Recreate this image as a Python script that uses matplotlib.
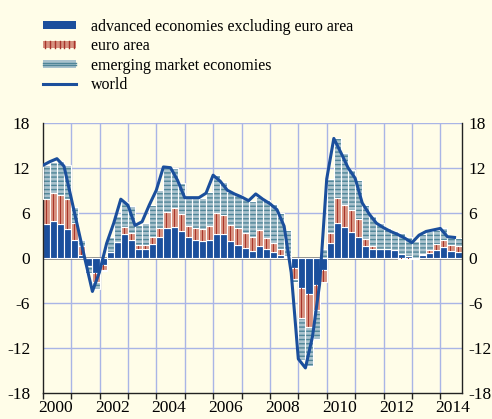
import numpy as np
import matplotlib
matplotlib.use("Agg")
import matplotlib.pyplot as plt
import matplotlib.transforms as mtransforms
from matplotlib.patches import Patch, Rectangle
from matplotlib.lines import Line2D
from matplotlib.legend_handler import HandlerBase

# quarterly contributions, 2000Q1 - 2014Q3
start_year = 2000
adv = [4.5, 4.9, 4.5, 3.8, 2.4, 0.4, -1.1, -2.1, -1.0, 0.7, 2.1, 3.2,
       2.3, 1.2, 1.1, 1.8, 2.8, 3.9, 4.1, 3.6, 2.7, 2.3, 2.2, 2.3,
       3.1, 3.2, 2.2, 1.7, 1.3, 0.9, 1.6, 1.2, 0.8, 0.4, 0.1, -1.4,
       -4.1, -4.8, -3.6, -1.6, 2.0, 4.6, 4.1, 3.4, 2.8, 1.5, 1.2, 1.2,
       1.2, 1.0, 0.5, 0.2, 0.0, 0.4, 0.6, 1.0, 1.4, 0.9, 0.7]
euro = [3.3, 3.7, 3.8, 4.0, 2.2, 1.1, 0.0, -1.1, -0.6, 0.1, 0.0, 0.9,
        1.0, 0.5, 0.6, 1.0, 1.2, 2.2, 2.5, 2.2, 1.5, 1.6, 1.6, 1.9,
        2.8, 2.5, 2.1, 2.3, 2.0, 1.8, 2.1, 1.4, 1.2, 0.8, 0.1, -1.4,
        -4.0, -4.4, -3.4, -1.6, 1.3, 3.4, 2.9, 3.0, 2.3, 1.0, 0.3, 0.0,
        0.0, -0.1, -0.2, -0.2, -0.2, 0.1, 0.4, 0.8, 0.9, 0.8, 0.8]
emer = [4.6, 4.2, 4.6, 4.5, 2.2, 0.8, -0.9, -1.0, -0.2, 1.9, 3.4, 3.3,
        3.6, 2.7, 2.9, 4.2, 5.0, 6.0, 5.3, 4.1, 3.7, 4.0, 4.2, 4.6,
        5.1, 4.4, 4.5, 4.4, 4.5, 4.8, 4.4, 5.1, 5.2, 4.7, 3.5, -0.5,
        -5.6, -5.3, -3.8, 1.2, 7.2, 7.9, 6.9, 5.3, 5.3, 4.5, 4.0, 3.4,
        2.8, 2.5, 2.8, 2.6, 2.2, 2.6, 2.5, 1.9, 1.6, 1.1, 1.1]
world = [12.3, 12.8, 13.2, 12.2, 8.0, 3.8, -0.4, -4.5, -1.9, 1.9, 4.6, 7.8,
         7.0, 4.3, 4.8, 7.0, 9.0, 12.1, 12.0, 10.3, 8.0, 8.0, 8.0, 8.6,
         11.0, 10.2, 9.0, 8.5, 8.1, 7.6, 8.5, 7.8, 7.2, 6.4, 4.2, -2.0,
         -13.5, -14.7, -10.5, -3.5, 10.5, 15.9, 14.0, 12.0, 10.6, 7.3, 5.8, 4.6,
         4.0, 3.5, 3.1, 2.6, 2.0, 3.0, 3.5, 3.7, 3.9, 2.8, 2.7]
labels = ["advanced economies excluding euro area", "euro area",
          "emerging market economies", "world"]
yticks = [-18, -12, -6, 0, 6, 12, 18]

BG = "#fffde8"
BLUE = "#1b4f9c"
SALMON = "#d6917f"
DARKRED = "#a8342a"
LIGHTBLUE = "#a9c2cd"
HATCH = "#4f8598"
GRID = "#a9b5e6"

plt.rcParams['font.family'] = ['Liberation Serif', 'DejaVu Serif']
plt.rcParams['hatch.linewidth'] = 1.0

adv = np.array(adv)
euro = np.array(euro)
emer = np.array(emer)
n = len(adv)
x = start_year + np.arange(n) / 4.0
w = 0.25

# stack positives up and negatives down
pos_base = np.zeros(n)
neg_base = np.zeros(n)
bottoms = []
for vals in (adv, euro, emer):
    b = np.where(vals >= 0, pos_base, neg_base)
    bottoms.append(b)
    pos_base = pos_base + np.clip(vals, 0, None)
    neg_base = neg_base + np.clip(vals, None, 0)

fig = plt.figure(figsize=(4.92, 4.19), dpi=100, facecolor=BG)
ax = fig.add_axes([0.0868, 0.0628, 0.8532, 0.6444], facecolor=BG)

for yv in [-12, -6, 6, 12, 18]:
    ax.axhline(yv, color=GRID, lw=1.0, zorder=0)
for yr in range(2001, 2015):
    ax.axvline(yr, color=GRID, lw=1.0, zorder=0)
ax.axhline(0, color="#6b6b6b", lw=1.8, zorder=1)

ax.bar(x, adv, width=w, bottom=bottoms[0], align='edge', color=BLUE,
       edgecolor='white', lw=0.8, zorder=2)
ax.bar(x, euro, width=w, bottom=bottoms[1], align='edge', color=SALMON,
       edgecolor='white', lw=0.8, zorder=2)
ax.bar(x + w / 2, euro, width=0.035, bottom=bottoms[1], align='center',
       color=DARKRED, lw=0, zorder=3)
ax.bar(x, emer, width=w, bottom=bottoms[2], align='edge', color=LIGHTBLUE,
       edgecolor=HATCH, hatch='----', lw=0, zorder=2)
ax.bar(x, emer, width=w, bottom=bottoms[2], align='edge', fill=False,
       edgecolor='white', lw=0.8, zorder=3)
ax.plot(x, world, color=BLUE, lw=2.2, zorder=4)

ax.set_xlim(2000, 2014.78)
ax.set_ylim(-18, 18)
ax.set_yticks(yticks)
ax.set_yticklabels([str(t) for t in yticks])
ax.tick_params(axis='y', length=0, labelsize=12.5, pad=9,
               labelleft=True, labelright=True)
# right-hand labels sit closer to the spine
shift = mtransforms.ScaledTranslation(-5 / 72, 0, fig.dpi_scale_trans)
for t in ax.yaxis.get_major_ticks():
    t.label2.set_transform(t.label2.get_transform() + shift)

ax.set_xticks(range(2000, 2015))
ax.set_xticklabels([])
ax.set_xticks([yr + 0.45 for yr in range(2000, 2015)], minor=True)
ax.set_xticklabels([str(yr) if yr % 2 == 0 else "" for yr in range(2000, 2015)],
                   minor=True)
ax.tick_params(axis='x', which='major', direction='out', length=4, width=1.0,
               color='#222222')
ax.tick_params(axis='x', which='minor', length=0, labelsize=12.5, pad=5)
for s in ['left', 'right', 'bottom']:
    ax.spines[s].set_color('#222222')
    ax.spines[s].set_linewidth(1.0)
ax.spines['top'].set_visible(False)


class StripeHandler(HandlerBase):
    def create_artists(self, legend, orig_handle, xd, yd, width, height, fontsize, trans):
        arts = [Rectangle((xd, yd + height * 0.2), width, height * 0.6,
                          facecolor=SALMON, edgecolor='none', transform=trans)]
        for k in range(7):
            xx = xd + width * (k + 0.5) / 7
            arts.append(Line2D([xx, xx], [yd + height * 0.2, yd + height * 0.8],
                               color=DARKRED, lw=1.0, transform=trans))
        return arts


class HatchHandler(HandlerBase):
    def create_artists(self, legend, orig_handle, xd, yd, width, height, fontsize, trans):
        arts = [Rectangle((xd, yd + height * 0.1), width, height * 0.8,
                          facecolor=LIGHTBLUE, edgecolor='none', transform=trans)]
        for yy in (0.38, 0.62):
            arts.append(Line2D([xd, xd + width], [yd + height * yy] * 2,
                               color=HATCH, lw=1.0, transform=trans))
        return arts


class BarHandler(HandlerBase):
    def create_artists(self, legend, orig_handle, xd, yd, width, height, fontsize, trans):
        return [Rectangle((xd, yd + height * 0.1), width, height * 0.8,
                          facecolor=BLUE, edgecolor='none', transform=trans)]


h_adv = Patch(color=BLUE)
h_euro = Patch(color=SALMON)
h_emer = Patch(color=LIGHTBLUE)
h_world = Line2D([], [], color=BLUE, lw=2.2)
fig.legend([h_adv, h_euro, h_emer, h_world], labels,
           handler_map={h_adv: BarHandler(), h_euro: StripeHandler(),
                        h_emer: HatchHandler()},
           loc='upper left', bbox_to_anchor=(0.058, 0.99), frameon=False,
           fontsize=11.5, handlelength=2.1, handleheight=0.7,
           handletextpad=0.9, labelspacing=0.22)

fig.savefig("out.png", dpi=100, facecolor=BG)
